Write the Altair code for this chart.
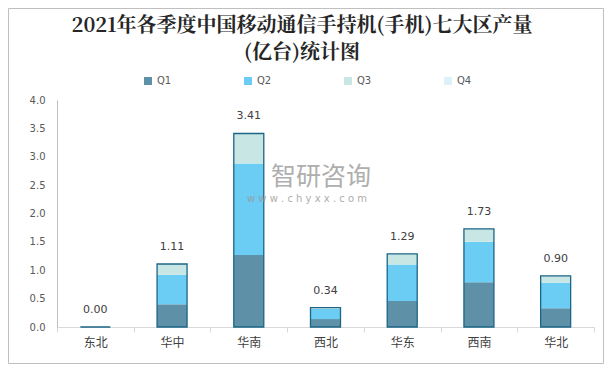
import altair as alt
import pandas as pd

regions = ["东北", "华中", "华南", "西北", "华东", "西南", "华北"]
quarters = ["Q1", "Q2", "Q3", "Q4"]
q1 = [0.00, 0.40, 1.27, 0.14, 0.46, 0.79, 0.33]
q2 = [0.00, 0.52, 1.61, 0.18, 0.64, 0.71, 0.45]
q3 = [0.00, 0.19, 0.53, 0.02, 0.19, 0.23, 0.12]
q4 = [0.00, 0.00, 0.00, 0.00, 0.00, 0.00, 0.00]
totals = [0.00, 1.11, 3.41, 0.34, 1.29, 1.73, 0.90]
y_ticks = [0, 0.5, 1.0, 1.5, 2.0, 2.5, 3.0, 3.5, 4.0]
colors = ["#5E91A8", "#6BCDF4", "#C8E7E4", "#DDF1F9"]
title_lines = ["2021年各季度中国移动通信手持机(手机)七大区产量", "(亿台)统计图"]

rows = []
for qi, (q, vals) in enumerate(zip(quarters, [q1, q2, q3, q4])):
    for r, v in zip(regions, vals):
        rows.append({"region": r, "quarter": q, "qi": qi, "value": v})
long_df = pd.DataFrame(rows)
tot_df = pd.DataFrame({"region": regions, "total": totals})
one = pd.DataFrame({"a": [0]})

W, H = 537, 227
CJK = "Noto Sans CJK SC"
SERIF = "Noto Serif CJK SC, Liberation Serif, Noto Sans CJK SC"

x_enc = alt.X(
    "region:N", sort=regions,
    scale=alt.Scale(paddingInner=0, paddingOuter=0),
    axis=alt.Axis(title=None, labelAngle=0, labelFontSize=12, labelColor="#404040",
                  labelFont=CJK, domainColor="#D9D9D9", tickColor="#D9D9D9",
                  tickSize=5, tickBand="extent", labelPadding=5, grid=False),
)
y_scale = alt.Scale(domain=[0, 4])
y_axis = alt.Axis(title=None, values=y_ticks, format=".1f", ticks=False, labelPadding=12,
                  labelFontSize=10, labelColor="#595959", labelFont="DejaVu Sans",
                  labelOverlap=False, labelFlush=False, tickCount=9,
                  domainColor="#BFBFBF", grid=False)

bars = alt.Chart(long_df).mark_bar(size=30).encode(
    x=x_enc,
    y=alt.Y("value:Q", stack="zero", scale=y_scale, axis=y_axis),
    color=alt.Color("quarter:N", scale=alt.Scale(domain=quarters, range=colors),
                    legend=alt.Legend(orient="none", legendX=86, legendY=-24,
                                      direction="horizontal", title=None,
                                      symbolType="square", symbolSize=64,
                                      labelFontSize=10, labelColor="#595959",
                                      labelFont="DejaVu Sans",
                                      columnPadding=71, labelOffset=4,
                                      symbolStrokeWidth=0)),
    order=alt.Order("qi:Q"),
)

outline = alt.Chart(tot_df).mark_bar(size=30, fillOpacity=0, stroke="#1B6587",
                                     strokeWidth=1.3).encode(
    x=x_enc, y=alt.Y("total:Q", scale=y_scale, axis=y_axis)
)

labels = alt.Chart(tot_df).mark_text(dy=-17, fontSize=11, color="#404040",
                                     font="DejaVu Sans").encode(
    x=x_enc, y=alt.Y("total:Q", scale=y_scale, axis=y_axis),
    text=alt.Text("total:Q", format=".2f"),
)

wm1 = alt.Chart(one).mark_text(text="智研咨询", fontSize=25, color="#9A9A9A",
                               opacity=0.8, font=CJK).encode(
    x=alt.value(321 - 57), y=alt.value(177 - 100))
wm2 = alt.Chart(one).mark_text(text="w w w . c h y x x . c o m", fontSize=10,
                               color="#9A9A9A", opacity=0.8,
                               font="DejaVu Sans").encode(
    x=alt.value(307 - 57), y=alt.value(199 - 100))

t1 = alt.Chart(one).mark_text(text=title_lines[0], fontSize=20, fontWeight="bold",
                              color="#262626", font=SERIF).encode(
    x=alt.value(302 - 57), y=alt.value(26 - 100))
t2 = alt.Chart(one).mark_text(text=title_lines[1], fontSize=20, fontWeight="bold",
                              color="#262626", font=SERIF).encode(
    x=alt.value(302 - 57), y=alt.value(53 - 100))

frame = alt.Chart(one).mark_rect(fillOpacity=0, stroke="#BFBFBF", strokeWidth=1).encode(
    x=alt.value(-48.5), x2=alt.value(546.5), y=alt.value(-91.5), y2=alt.value(263.5))

chart = alt.layer(bars, outline, labels, wm1, wm2, t1, t2, frame).properties(
    width=W, height=H,
    autosize=alt.AutoSizeParams(type="none"),
    padding={"left": 49, "top": 92, "right": 10, "bottom": 37},
).configure_view(strokeWidth=0)

chart.save("out.html", embed_options={"renderer": "svg", "actions": False})
